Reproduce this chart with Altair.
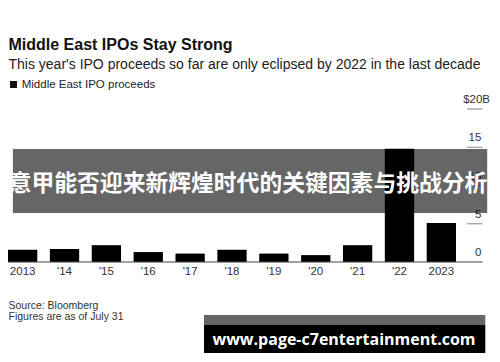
import altair as alt
import pandas as pd

# ---- data ----
years = ["2013", "'14", "'15", "'16", "'17", "'18", "'19", "'20", "'21", "'22", "2023"]
proceeds = [1.6, 1.7, 2.2, 1.3, 1.1, 1.6, 1.1, 0.9, 2.2, 14.8, 5.1]
tick_values = [5, 10, 15]
label_values = [0, 5, 10, 15]
tick_labels = ["0", "5", "10", "15"]
top_tick_value = [20]
top_tick_label = ["$20B"]

title = "Middle East IPOs Stay Strong"
subtitle = "This year's IPO proceeds so far are only eclipsed by 2022 in the last decade"
legend_label = "Middle East IPO proceeds"
source_lines = ["Source: Bloomberg", "Figures are as of July 31"]
banner_text = "意甲能否迎来新辉煌时代的关键因素与挑战分析"
watermark_text = "www.page-c7entertainment.com"

FONT = "Liberation Sans"
W, H = 448, 153

bars_df = pd.DataFrame({"year": years, "value": proceeds})
ticks_df = pd.DataFrame({"v": tick_values + top_tick_value})
labels_df = pd.DataFrame({"v": label_values, "lab": tick_labels})
top_df = pd.DataFrame({"v": top_tick_value, "lab": top_tick_label})
base_df = pd.DataFrame({"v": [0]})

yscale = alt.Scale(domain=[0, 20], nice=False, zero=True)


def txt(text, x, y, size, color="#000", weight="normal", font=FONT,
        align="left", baseline="alphabetic"):
    return alt.Chart(pd.DataFrame({"t": [text]})).mark_text(
        align=align, baseline=baseline, fontSize=size, fontWeight=weight,
        font=font, color=color
    ).encode(x=alt.value(x), y=alt.value(y), text="t:N")


def box(x1, x2, y1, y2, color, opacity=1.0):
    return alt.Chart(pd.DataFrame({"k": [1]})).mark_rect(color=color, opacity=opacity).encode(
        x=alt.value(x1), x2=alt.value(x2), y=alt.value(y1), y2=alt.value(y2)
    )


bars = alt.Chart(bars_df).mark_bar(color="#000000").encode(
    x=alt.X("year:N", sort=years,
            scale=alt.Scale(paddingInner=0.3, paddingOuter=0),
            axis=alt.Axis(title=None, domain=False, ticks=False,
                          labelAngle=0, labelFont=FONT, labelFontSize=11.5,
                          labelColor="#333333", labelPadding=12,
                          labelBaseline="alphabetic")),
    y=alt.Y("value:Q", scale=yscale, axis=None),
)

baseline = alt.Chart(base_df).mark_rule(color="#444444", strokeWidth=1).encode(
    x=alt.value(0), x2=alt.value(474.5), y=alt.Y("v:Q", scale=yscale, axis=None)
)

ticks = alt.Chart(ticks_df).mark_rule(color="#999999", strokeWidth=1.2).encode(
    x=alt.value(459), x2=alt.value(474.5), y=alt.Y("v:Q", scale=yscale, axis=None)
)

ylabels = alt.Chart(labels_df).mark_text(
    align="right", baseline="alphabetic", dy=-6, fontSize=11.5, font=FONT, color="#333333"
).encode(x=alt.value(473.3), y=alt.Y("v:Q", scale=yscale, axis=None), text="lab:N")

ytop = alt.Chart(top_df).mark_text(
    align="right", baseline="alphabetic", dy=-6, fontSize=11.5, font=FONT, color="#333333"
).encode(x=alt.value(482), y=alt.Y("v:Q", scale=yscale, axis=None), text="lab:N")

banner = box(4.9, 479.2, 40, 104, "#000000", 0.6)
banner_t = txt(banner_text, 240, 75, 22.8, color="#ffffff", weight="bold",
               font="Noto Sans CJK SC", align="center", baseline="middle")

title_t = txt(title, 0.5, -59, 16, color="#111111", weight="bold")
subtitle_t = txt(subtitle, 0.5, -40, 14, color="#222222")
legend_sq = box(2, 9, -28, -21, "#111111")
legend_t = txt(legend_label, 13.7, -21, 11.5, color="#222222")

src1 = txt(source_lines[0], 0.5, 200, 10.5, color="#333333")
src2 = txt(source_lines[1], 0.5, 211, 10.5, color="#333333")

wm_strip = box(196, 477.3, 206, 216, "#666666")
wm_box = box(196, 477.3, 216, 244, "#000000")
wm_t = txt(watermark_text, 336, 230.5, 16, color="#ffffff", weight="bold",
           font="Open Sans", align="center", baseline="middle")

chart = alt.layer(
    bars, baseline, ticks, ylabels, ytop, banner, banner_t,
    title_t, subtitle_t, legend_sq, legend_t, src1, src2,
    wm_strip, wm_box, wm_t
).properties(
    width=W, height=H,
    autosize=alt.AutoSizeParams(type="none"),
    padding={"left": 0, "top": 101, "right": 36, "bottom": 92},
    background="#ffffff",
).configure_view(stroke=None)

chart.save("out.html", embed_options={"renderer": "svg", "actions": False})
